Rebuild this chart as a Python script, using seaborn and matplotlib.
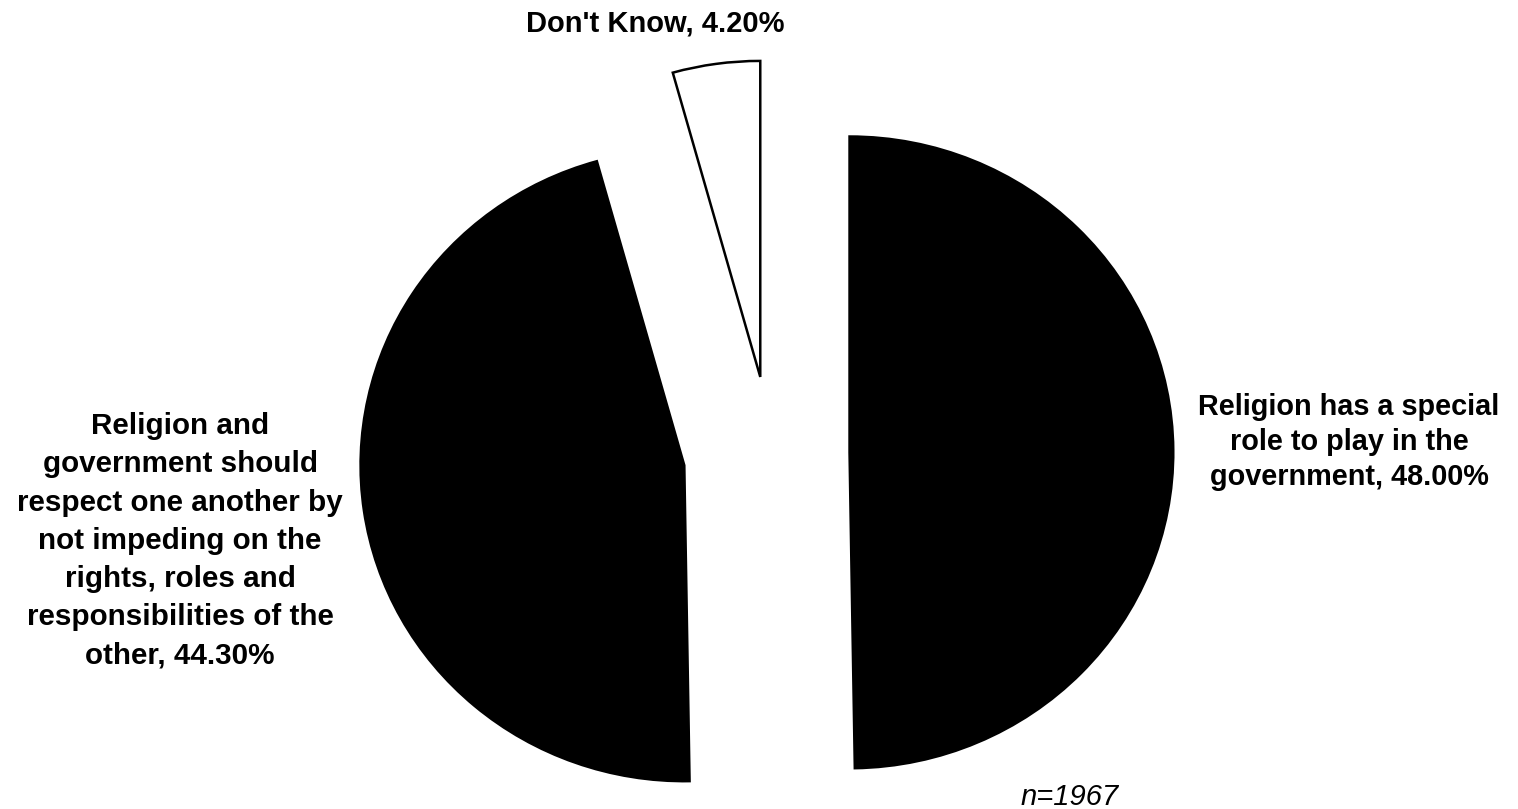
import matplotlib
matplotlib.use("Agg")
import matplotlib.pyplot as plt
import seaborn as sns

# ---- data ----
categories = [
    "Religion has a special\nrole to play in the\ngovernment",
    "Religion and\ngovernment should\nrespect one another by\nnot impeding on the\nrights, roles and\nresponsibilities of the\nother",
    "Don't Know",
]
values = [48.00, 44.30, 4.20]
n_label = "n=1967"

sns.set_theme(style="white")
plt.rcParams["font.family"] = ["Liberation Sans", "DejaVu Sans"]

fig = plt.figure(figsize=(15.18, 8.09), dpi=100)
ax = fig.add_axes([0, 0, 1, 1])

colors = ["black", "black", "white"]
wedges, _ = ax.pie(
    values,
    startangle=90,
    counterclock=False,
    explode=[0.242, 0.27, 0.243],
    colors=colors,
    wedgeprops=dict(linewidth=1.6, edgecolor="black"),
)
wedges[2].set_linewidth(1.8)

# pixel-based placement: 324 px per unit horizontally, 316 px per unit vertically
cx, cy = 771, 453
sx, sy = 324.0, 316.0
ax.set_xlim(-cx / sx, (1518 - cx) / sx)
ax.set_ylim(-(809 - cy) / sy, cy / sy)
ax.set_aspect("auto")
ax.axis("off")

def px(x, y):
    return (x - cx) / sx, (cy - y) / sy

lab_kw = dict(fontweight="bold", ha="center", va="baseline", color="black")

# y positions are the baselines of the last line of each label
ax.text(*px(1349, 485), f"{categories[0]}, {values[0]:.2f}%",
        fontsize=20.8, linespacing=1.31, **lab_kw)
ax.text(*px(180, 663), f"{categories[1]}, {values[1]:.2f}%",
        fontsize=21.3, linespacing=1.46, **lab_kw)
ax.text(*px(655, 32), f"{categories[2]}, {values[2]:.2f}%",
        fontsize=21, **lab_kw)
ax.text(*px(1070, 805), n_label, fontsize=21, fontstyle="italic",
        ha="center", va="baseline", color="black")

fig.savefig("out.png", dpi=100, facecolor="white")
